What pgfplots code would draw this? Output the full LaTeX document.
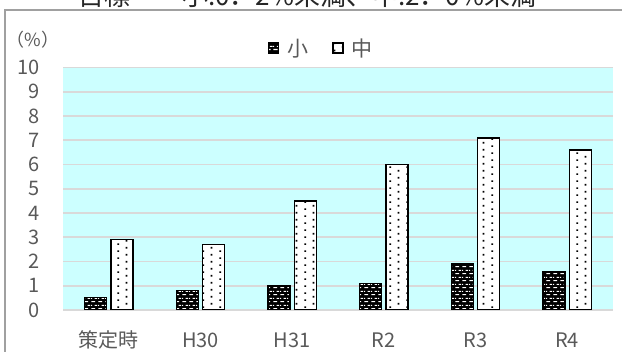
\documentclass[border=0pt]{standalone}
\usepackage{fontspec}
\setmainfont{Noto Sans CJK JP}
\usepackage{pgfplots}
\pgfplotsset{compat=1.18}
\usetikzlibrary{patterns.meta}
\definecolor{bgcyan}{HTML}{CCFFFF}
\definecolor{gridgray}{HTML}{D9D9D9}
\definecolor{txtgray}{HTML}{595959}
\definecolor{framegray}{HTML}{A0A0A0}
\newcommand{\legfont}{\fontsize{21bp}{25bp}\selectfont\color{txtgray}}
\pgfdeclarepattern{
  name=sparsedots, type=uncolored,
  bottom left={\pgfpoint{0bp}{0bp}}, top right={\pgfpoint{16.6bp}{7.3bp}},
  tile size={\pgfpoint{16.6bp}{7.3bp}},
  code={
    \pgfpathrectangle{\pgfpoint{1.5bp}{1.2bp}}{\pgfpoint{1.8bp}{1.8bp}}
    \pgfpathrectangle{\pgfpoint{9.8bp}{4.85bp}}{\pgfpoint{1.8bp}{1.8bp}}
    \pgfusepath{fill}
  }
}
\pgfdeclarepattern{
  name=whitebricks, type=uncolored,
  bottom left={\pgfpoint{0bp}{0bp}}, top right={\pgfpoint{7bp}{7bp}},
  tile size={\pgfpoint{7bp}{7bp}},
  code={
    \pgfpathrectangle{\pgfpoint{0.5bp}{1.0bp}}{\pgfpoint{4.3bp}{1.2bp}}
    \pgfpathrectangle{\pgfpoint{4.0bp}{4.5bp}}{\pgfpoint{3.0bp}{1.2bp}}
    \pgfpathrectangle{\pgfpoint{0bp}{4.5bp}}{\pgfpoint{1.3bp}{1.2bp}}
    \pgfusepath{fill}
  }
}
\begin{document}
\begin{tikzpicture}
\useasboundingbox (0,0) rectangle (622bp,352bp);
\clip (0,0) rectangle (622bp,352bp);
\draw[framegray, line width=1.2bp] (5bp,-20bp) -- (5bp,342bp) -- (640bp,342bp);
\node[anchor=base west, inner sep=0pt, font=\fontsize{26bp}{30bp}\selectfont, text=black!85] at (78bp,346.5bp) {目標　　小:0．2\%未満、中:2．0\%未満};
\node[inner sep=0pt, font=\fontsize{18bp}{22bp}\selectfont, text=txtgray] at (33bp,312bp) {（\%）};
\begin{axis}[
  scale only axis,
  width=550bp, height=242.5bp,
  at={(63bp,42bp)}, anchor=south west,
  ybar=4.4bp, bar width=22bp,
  xmin=-0.5, xmax=5.5, ymin=0, ymax=10,
  xtick={0,...,5},
  xticklabels={策定時,H30,H31,R2,R3,R4},
  ytick={0,...,10},
  ymajorgrids,
  grid style={gridgray, line width=1.6bp},
  axis line style={draw=none},
  tick style={draw=none},
  axis background/.style={fill=bgcyan},
  /pgf/number format/assume math mode=true,
  ticklabel style={font=\fontsize{20bp}{24bp}\selectfont, text=txtgray},
  yticklabel style={inner sep=0pt, anchor=east, xshift=-23bp},
  xticklabel style={inner sep=0pt, anchor=base, yshift=-33bp},
  legend style={draw=none, fill=none, at={(0.47,1.08)}, anchor=center,
    /tikz/every odd column/.append style={column sep=6bp},
    /tikz/every even column/.append style={column sep=22bp}},
  legend columns=-1,
  legend image code/.code={\draw[#1] (0bp,-5bp) rectangle (10bp,5bp);},
]
\addplot[draw=black, line width=1.2bp, fill=black, postaction={pattern=whitebricks, pattern color=white}]
  coordinates {(0,0.5) (1,0.8) (2,1.0) (3,1.1) (4,1.9) (5,1.6)};
\addplot[draw=black, line width=1.6bp, fill=white, postaction={pattern=sparsedots, pattern color=black}]
  coordinates {(0,2.9) (1,2.7) (2,4.5) (3,6.0) (4,7.1) (5,6.6)};
\legend{\legfont 小,\legfont 中}
\end{axis}
\end{tikzpicture}
\end{document}
